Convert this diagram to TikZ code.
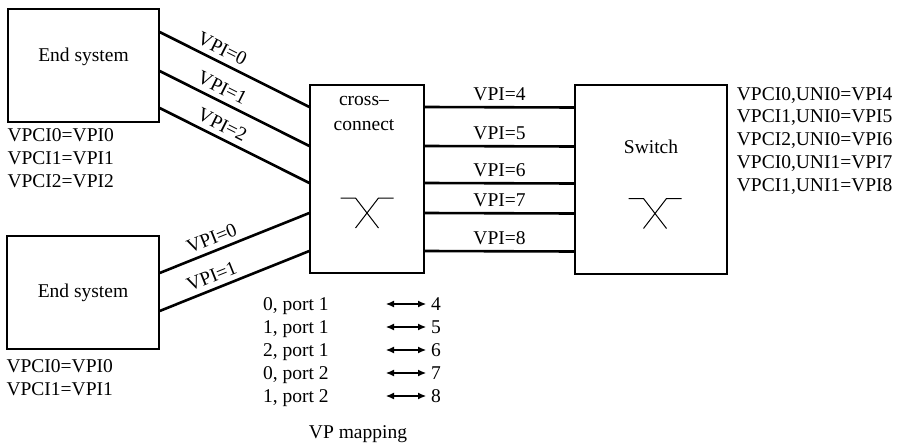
\documentclass[tikz,border=0pt]{standalone}
\usepackage{fontspec}
\setmainfont{Liberation Serif}
\usetikzlibrary{positioning,arrows.meta}

\begin{document}
\begin{tikzpicture}[
    x=1pt, y=-1pt,
    every node/.style={font=\fontsize{19.5}{23}\selectfont, inner sep=0pt},
    unit/.style={draw, rectangle, line width=1.3pt},
    link/.style={line width=2.6pt},
    xmark/.style={line width=1pt},
    maparrow/.style={{Latex[length=8pt,width=7pt]}-{Latex[length=8pt,width=7pt]}, line width=1.1pt},
    vpi/.style={sloped, above=5pt},
    list/.style={align=left, font=\fontsize{19.5}{22.8}\selectfont}
  ]
  \useasboundingbox (0,0) rectangle (897,444);

  % Equipment boxes
  \node[unit, minimum width=151pt, minimum height=113pt] (es1) at (83.5,65.5) {};
  \node[unit, minimum width=152pt, minimum height=113pt] (es2) at (83,292.5) {};
  \node[unit, minimum width=114pt, minimum height=188pt] (cc) at (367,179) {};
  \node[unit, minimum width=152pt, minimum height=189pt] (sw) at (651,179.5) {};

  % Box texts
  \node (es1text) at ([yshift=8.5pt]es1.center) {End system};
  \node (es2text) at (es2.center) {End system};
  \node[align=center] (cctext) at ([xshift=-3pt, yshift=-29.5pt]cc.north) {cross–\\[2pt]connect};
  \node (swtext) at ([yshift=-62pt]sw.north) {Switch};

  % Switching symbols
  \coordinate (ccx) at ([yshift=-19pt]cc.center);
  \coordinate (swx) at ([xshift=4pt, yshift=-19pt]sw.center);
  \foreach \m in {ccx, swx} {
      \draw[xmark] ([xshift=-26.5pt]\m) -- ([xshift=-11.5pt]\m) -- ([xshift=11.5pt, yshift=-30pt]\m);
      \draw[xmark] ([xshift=26.5pt]\m) -- ([xshift=11.5pt]\m) -- ([xshift=-11.5pt, yshift=-30pt]\m);
    }

  % Ports
  \foreach \i/\dy in {1/72, 2/33, 3/-4, 4/-34, 5/-72} {
      \coordinate (in\i) at ([yshift=\dy]cc.west);
      \coordinate (out\i) at ([yshift=\dy]cc.east);
      \coordinate (sw\i) at ([yshift=\dy]sw.west);
    }
  \foreach \i/\dy in {1/33.5, 2/-5.5, 3/-42.5} {
      \coordinate (a\i) at ([yshift=\dy]es1.east);
    }
  \foreach \i/\dy in {1/19.5, 2/-18.5} {
      \coordinate (b\i) at ([yshift=\dy]es2.east);
    }

  % Virtual paths into the cross-connect
  \foreach \src/\dst/\lab in {a1/in1/0, a2/in2/1, a3/in3/2, b1/in4/0, b2/in5/1} {
      \draw[link] (\src) -- node[vpi, pos=0.38] {VPI=\lab} (\dst);
    }

  % Virtual paths to the switch
  \foreach \i/\lab in {1/4, 2/5, 3/6, 4/7, 5/8} {
      \draw[link] (out\i) -- node[above=5pt] {VPI=\lab} (sw\i);
    }

  % VPCI tables
  \node[list, below right=6pt and 0pt of es1.south west] (es1map) {VPCI0=VPI0\\VPCI1=VPI1\\VPCI2=VPI2};
  \node[list, below right=9.5pt and 0pt of es2.south west] (es2map) {VPCI0=VPI0\\VPCI1=VPI1};
  \node[list, below right=2.5pt and 9pt of sw.north east] (swmap) {VPCI0,UNI0=VPI4\\VPCI1,UNI0=VPI5\\VPCI2,UNI0=VPI6\\VPCI0,UNI1=VPI7\\VPCI1,UNI1=VPI8};

  % VP mapping table
  \foreach \k/\pv/\pp/\n [evaluate=\k as \ry using 310.5+23*(\k-1)] in {1/0/1/4, 2/1/1/5, 3/2/1/6, 4/0/2/7, 5/1/2/8} {
      \node[anchor=base west] (src\k) at (263,\ry) {\pv, port \pp};
      \node[anchor=base west] (dst\k) at (431,\ry) {\n};
      \draw[maparrow] ([xshift=-45pt, yshift=6.5pt]dst\k.base west) -- ([xshift=-5pt, yshift=6.5pt]dst\k.base west);
    }
  \node[anchor=base] (vpmap) at (358,438.5) {VP mapping};
\end{tikzpicture}
\end{document}
